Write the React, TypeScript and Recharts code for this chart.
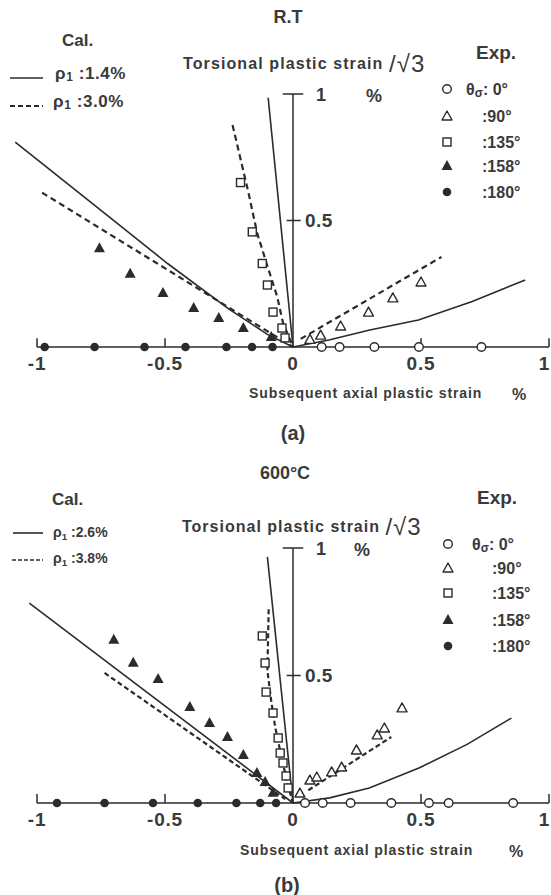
import React from 'react';
import { ScatterChart, Scatter, XAxis, YAxis, ReferenceLine } from 'recharts';

type Pt = { x: number; y: number };

// x: subsequent axial plastic strain (%), y: torsional plastic strain / sqrt(3) (%)

// ---- (a) R.T ----
const rtExp0: Pt[] = [
  { x: 0.112, y: 0 }, { x: 0.182, y: 0 }, { x: 0.318, y: 0 }, { x: 0.492, y: 0 }, { x: 0.736, y: 0 },
];
const rtExp90: Pt[] = [
  { x: 0.066, y: 0.03 }, { x: 0.108, y: 0.047 }, { x: 0.186, y: 0.083 },
  { x: 0.295, y: 0.138 }, { x: 0.39, y: 0.194 }, { x: 0.5, y: 0.257 },
];
const rtExp135: Pt[] = [
  { x: -0.205, y: 0.65 }, { x: -0.159, y: 0.455 }, { x: -0.12, y: 0.33 }, { x: -0.1, y: 0.245 },
  { x: -0.078, y: 0.138 }, { x: -0.043, y: 0.075 }, { x: -0.031, y: 0.036 },
];
const rtExp158: Pt[] = [
  { x: -0.756, y: 0.39 }, { x: -0.636, y: 0.29 }, { x: -0.508, y: 0.213 }, { x: -0.388, y: 0.154 },
  { x: -0.29, y: 0.115 }, { x: -0.194, y: 0.075 }, { x: -0.085, y: 0.04 },
];
const rtExp180: Pt[] = [
  { x: -0.97, y: 0 }, { x: -0.775, y: 0 }, { x: -0.58, y: 0 }, { x: -0.42, y: 0 },
  { x: -0.26, y: 0 }, { x: -0.16, y: 0 }, { x: -0.08, y: 0 },
];
// calculated, rho1 = 1.4 %
const rtCalSolidLeft: Pt[] = [
  { x: -1.085, y: 0.81 }, { x: -0.75, y: 0.54 }, { x: -0.49, y: 0.33 }, { x: -0.25, y: 0.15 }, { x: -0.1, y: 0.05 }, { x: 0, y: 0 },
];
const rtCalSolidSteep: Pt[] = [{ x: -0.097, y: 0.985 }, { x: 0, y: 0 }];
const rtCalSolidRight: Pt[] = [
  { x: 0, y: 0 }, { x: 0.14, y: 0.028 }, { x: 0.3, y: 0.067 }, { x: 0.49, y: 0.107 }, { x: 0.7, y: 0.18 }, { x: 0.907, y: 0.265 },
];
// calculated, rho1 = 3.0 %
const rtCalDashLeft: Pt[] = [{ x: -0.98, y: 0.61 }, { x: 0, y: 0 }];
const rtCalDashSteep: Pt[] = [
  { x: -0.236, y: 0.877 }, { x: -0.174, y: 0.61 }, { x: -0.14, y: 0.45 }, { x: -0.1, y: 0.32 },
  { x: -0.062, y: 0.2 }, { x: -0.039, y: 0.095 }, { x: 0, y: 0 },
];
const rtCalDashRight: Pt[] = [{ x: 0.03, y: 0.032 }, { x: 0.58, y: 0.356 }];

// ---- (b) 600°C ----
const htExp0: Pt[] = [
  { x: 0.047, y: 0 }, { x: 0.116, y: 0 }, { x: 0.225, y: 0 }, { x: 0.384, y: 0 },
  { x: 0.531, y: 0 }, { x: 0.608, y: 0 }, { x: 0.86, y: 0 },
];
const htExp90: Pt[] = [
  { x: 0.027, y: 0.039 }, { x: 0.066, y: 0.09 }, { x: 0.093, y: 0.102 }, { x: 0.151, y: 0.122 },
  { x: 0.19, y: 0.141 }, { x: 0.248, y: 0.208 }, { x: 0.329, y: 0.267 }, { x: 0.357, y: 0.294 }, { x: 0.426, y: 0.373 },
];
const htExp135: Pt[] = [
  { x: -0.12, y: 0.655 }, { x: -0.109, y: 0.549 }, { x: -0.105, y: 0.435 }, { x: -0.078, y: 0.353 },
  { x: -0.058, y: 0.255 }, { x: -0.05, y: 0.196 }, { x: -0.039, y: 0.157 }, { x: -0.027, y: 0.106 }, { x: -0.019, y: 0.059 },
];
const htExp158: Pt[] = [
  { x: -0.7, y: 0.64 }, { x: -0.624, y: 0.55 }, { x: -0.527, y: 0.486 }, { x: -0.403, y: 0.376 },
  { x: -0.326, y: 0.314 }, { x: -0.256, y: 0.259 }, { x: -0.194, y: 0.188 }, { x: -0.141, y: 0.118 },
  { x: -0.109, y: 0.082 }, { x: -0.078, y: 0.04 },
];
const htExp180: Pt[] = [
  { x: -0.922, y: 0 }, { x: -0.736, y: 0 }, { x: -0.547, y: 0 }, { x: -0.372, y: 0 },
  { x: -0.221, y: 0 }, { x: -0.128, y: 0 }, { x: -0.066, y: 0 },
];
// calculated, rho1 = 2.6 %
const htCalSolidLeft: Pt[] = [{ x: -1.03, y: 0.784 }, { x: 0, y: 0 }];
const htCalSolidSteep: Pt[] = [{ x: -0.1, y: 0.965 }, { x: 0, y: 0 }];
const htCalSolidRight: Pt[] = [
  { x: 0, y: 0 }, { x: 0.143, y: 0.02 }, { x: 0.298, y: 0.059 }, { x: 0.492, y: 0.137 }, { x: 0.68, y: 0.23 }, { x: 0.853, y: 0.333 },
];
// calculated, rho1 = 3.8 %
const htCalDashLeft: Pt[] = [{ x: -0.736, y: 0.51 }, { x: -0.03, y: 0.015 }];
const htCalDashSteep: Pt[] = [
  { x: -0.095, y: 0.76 }, { x: -0.1, y: 0.52 }, { x: -0.085, y: 0.4 }, { x: -0.07, y: 0.3 },
  { x: -0.045, y: 0.18 }, { x: -0.02, y: 0.07 }, { x: 0, y: 0 },
];
const htCalDashRight: Pt[] = [{ x: 0.06, y: 0.05 }, { x: 0.384, y: 0.259 }];

const xTicks = [-1, -0.5, 0, 0.5, 1];
const yTicks = [0.5, 1];

const W = 551;
const H = 895;
const ORIGIN_X = 293;
const X_SCALE = 256;
const INK = '#2b2b2b';
const TXT = '#3a3a3a';
const FONT = '"Liberation Sans", Arial, Helvetica, sans-serif';

const OpenCircle = ({ cx, cy }: any) => (
  <circle cx={cx} cy={cy} r={4.3} fill="#fff" stroke={INK} strokeWidth={1.4} />
);
const FilledCircle = ({ cx, cy }: any) => <circle cx={cx} cy={cy} r={4.3} fill={INK} />;
const OpenTriangle = ({ cx, cy }: any) => (
  <path
    d={`M${cx},${cy - 5} L${cx + 5},${cy + 4} L${cx - 5},${cy + 4} Z`}
    fill="#fff" stroke={INK} strokeWidth={1.4} strokeLinejoin="round"
  />
);
const FilledTriangle = ({ cx, cy }: any) => (
  <path d={`M${cx},${cy - 6} L${cx + 5.5},${cy + 4} L${cx - 5.5},${cy + 4} Z`} fill={INK} />
);
const OpenSquare = ({ cx, cy }: any) => (
  <rect x={cx - 4} y={cy - 4} width={8} height={8} fill="#fff" stroke={INK} strokeWidth={1.4} />
);
const NoDot = () => <g />;

const Txt = ({ x, y, size, anchor = 'start', ls = 0, weight = 700, children }: any) => (
  <text
    x={x} y={y} fontSize={size} textAnchor={anchor} dominantBaseline="central"
    fontFamily={FONT} fontWeight={weight} fill={TXT} letterSpacing={ls}
  >
    {children}
  </text>
);

interface PanelProps {
  top: number;
  height: number;
  originY: number;
  yScale: number;
  pctX: number;
  dash: string;
  exp0: Pt[]; exp90: Pt[]; exp135: Pt[]; exp158: Pt[]; exp180: Pt[];
  solid: Pt[][];
  dashed: Pt[][];
}

const Panel: React.FC<PanelProps> = (p) => {
  // the axes take 1px each (0 would stop recharts from drawing their ticks)
  const xDomain = [-(ORIGIN_X - 1) / X_SCALE, (W - ORIGIN_X) / X_SCALE];
  const yDomain = [-(p.height - 1 - p.originY) / p.yScale, p.originY / p.yScale];
  const axis = { stroke: INK, strokeWidth: 1.5 };

  const XTick = (t: any) => {
    const last = t.payload.value === 1;
    return (
      <Txt x={last ? W - 1 : t.x} y={p.originY + 16} size={19} anchor={last ? 'end' : 'middle'} ls={0.8}>
        {t.payload.value}
      </Txt>
    );
  };
  const YTick = (t: any) =>
    t.payload.value === 1 ? (
      <g>
        <Txt x={ORIGIN_X + 23} y={t.y + 1} size={18}>1</Txt>
        <Txt x={p.pctX} y={t.y + 2} size={18}>%</Txt>
      </g>
    ) : (
      <Txt x={ORIGIN_X + 12} y={t.y} size={19} ls={0.5}>{t.payload.value}</Txt>
    );

  return (
    <div style={{ position: 'absolute', left: 0, top: p.top, width: W, height: p.height }}>
      <ScatterChart width={W} height={p.height} margin={{ top: 0, right: 0, bottom: 0, left: 0 }}>
        <XAxis
          type="number" dataKey="x" domain={xDomain} allowDataOverflow ticks={xTicks} interval={0}
          height={1} axisLine={false} tickLine={false} tick={XTick}
        />
        <YAxis
          type="number" dataKey="y" domain={yDomain} allowDataOverflow ticks={yTicks} interval={0}
          width={1} axisLine={false} tickLine={false} tick={YTick}
        />
        <ReferenceLine segment={[{ x: -1, y: 0 }, { x: 1, y: 0 }]} {...axis} />
        {[-1, -0.5, 0.5, 1].map((t) => (
          <ReferenceLine key={t} segment={[{ x: t, y: 0 }, { x: t, y: 0.035 }]} {...axis} />
        ))}
        <ReferenceLine segment={[{ x: 0, y: 0 }, { x: 0, y: 1 }]} {...axis} />
        <ReferenceLine segment={[{ x: -0.04, y: 1 }, { x: 0.04, y: 1 }]} {...axis} />
        <ReferenceLine segment={[{ x: -0.025, y: 0.5 }, { x: 0.03, y: 0.5 }]} {...axis} />

        {p.solid.map((d, i) => (
          <Scatter key={`s${i}`} data={d} line={{ stroke: INK, strokeWidth: 1.6 }} lineType="joint"
            shape={NoDot} isAnimationActive={false} />
        ))}
        {p.dashed.map((d, i) => (
          <Scatter key={`d${i}`} data={d} line={{ stroke: INK, strokeWidth: 2.2, strokeDasharray: p.dash }}
            lineType="joint" shape={NoDot} isAnimationActive={false} />
        ))}

        <Scatter data={p.exp180} shape={FilledCircle} isAnimationActive={false} />
        <Scatter data={p.exp158} shape={FilledTriangle} isAnimationActive={false} />
        <Scatter data={p.exp135} shape={OpenSquare} isAnimationActive={false} />
        <Scatter data={p.exp90} shape={OpenTriangle} isAnimationActive={false} />
        <Scatter data={p.exp0} shape={OpenCircle} isAnimationActive={false} />
      </ScatterChart>
    </div>
  );
};

const Rho = ({ x, y, size, value, ls = 0 }: any) => (
  <Txt x={x} y={y} size={size} ls={ls}>
    ρ<tspan fontSize={size * 0.7} dy={4}>1</tspan>
    <tspan dy={-4}>{` :${value}`}</tspan>
  </Txt>
);

const ExpLegend = ({ mx, firstX, restX, rows }: any) => {
  const marks = [OpenCircle, OpenTriangle, OpenSquare, FilledTriangle, FilledCircle];
  const labels = [':90°', ':135°', ':158°', ':180°'];
  return (
    <g>
      {marks.map((M, i) => <M key={i} cx={mx} cy={rows[i]} />)}
      <Txt x={firstX} y={rows[0]} size={16}>
        θ<tspan fontSize={12} dy={4}>σ</tspan><tspan dy={-4}>: 0°</tspan>
      </Txt>
      {labels.map((l, i) => (
        <Txt key={l} x={restX} y={rows[i + 1]} size={16}>{l}</Txt>
      ))}
    </g>
  );
};

const App: React.FC = () => (
  <div style={{ position: 'absolute', left: 0, top: 0, width: W, height: H, background: '#fff' }}>
    <Panel
      top={0} height={440} originY={347} yScale={253} pctX={366} dash="6 4"
      exp0={rtExp0} exp90={rtExp90} exp135={rtExp135} exp158={rtExp158} exp180={rtExp180}
      solid={[rtCalSolidLeft, rtCalSolidSteep, rtCalSolidRight]}
      dashed={[rtCalDashLeft, rtCalDashSteep, rtCalDashRight]}
    />
    <Panel
      top={450} height={445} originY={353} yScale={255} pctX={354} dash="5 3"
      exp0={htExp0} exp90={htExp90} exp135={htExp135} exp158={htExp158} exp180={htExp180}
      solid={[htCalSolidLeft, htCalSolidSteep, htCalSolidRight]}
      dashed={[htCalDashLeft, htCalDashSteep, htCalDashRight]}
    />
    <svg width={W} height={H} style={{ position: 'absolute', left: 0, top: 0, pointerEvents: 'none' }}>
      {/* (a) */}
      <Txt x={288} y={17} size={18} anchor="middle">R.T</Txt>
      <Txt x={62} y={40} size={17}>Cal.</Txt>
      <line x1={10} x2={43} y1={78} y2={78} stroke={INK} strokeWidth={1.6} />
      <Rho x={55} y={73} size={17} value="1.4%" ls={0.6} />
      <line x1={10} x2={43} y1={106} y2={106} stroke={INK} strokeWidth={2} strokeDasharray="5 3" />
      <Rho x={53} y={101} size={17} value="3.0%" ls={0.6} />
      <Txt x={183} y={63} size={16} ls={1.1}>
        Torsional plastic strain <tspan fontSize={24} fontWeight={400}>/√3</tspan>
      </Txt>
      <Txt x={476} y={52} size={19}>Exp.</Txt>
      <ExpLegend mx={447} firstX={466} restX={482} rows={[89, 116, 142, 166, 192]} />
      <Txt x={249} y={393} size={14} ls={0.9}>Subsequent axial plastic strain</Txt>
      <Txt x={512} y={394} size={16}>%</Txt>
      <Txt x={293} y={433} size={20} anchor="middle">(a)</Txt>

      {/* (b) */}
      <Txt x={285} y={473} size={18} anchor="middle">600°C</Txt>
      <Txt x={52} y={499} size={17}>Cal.</Txt>
      <line x1={13} x2={43} y1={533} y2={533} stroke={INK} strokeWidth={1.6} />
      <Rho x={53} y={532} size={14} value="2.6%" />
      <line x1={12} x2={43} y1={560} y2={560} stroke={INK} strokeWidth={1.6} strokeDasharray="4 2" />
      <Rho x={53} y={558} size={14} value="3.8%" />
      <Txt x={182} y={526} size={16} ls={1}>
        Torsional plastic strain <tspan fontSize={24} fontWeight={400}>/√3</tspan>
      </Txt>
      <Txt x={477} y={497} size={19}>Exp.</Txt>
      <ExpLegend mx={448} firstX={472} restX={492} rows={[544, 568, 593, 620, 646]} />
      <Txt x={240} y={850} size={14} ls={0.9}>Subsequent axial plastic strain</Txt>
      <Txt x={509} y={851} size={16}>%</Txt>
      <Txt x={287} y={885} size={20} anchor="middle">(b)</Txt>
    </svg>
  </div>
);

export default App;
